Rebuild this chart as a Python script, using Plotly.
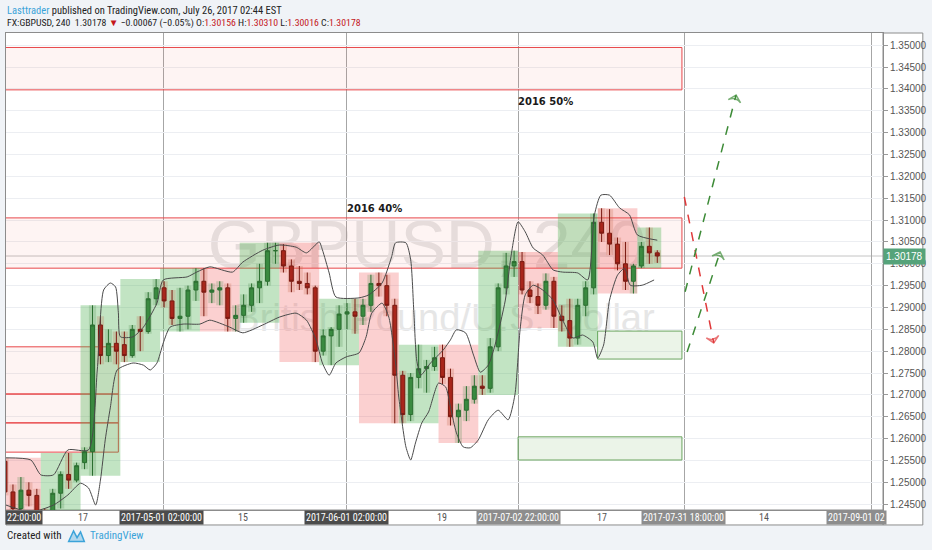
import numpy as np
import pandas as pd
import plotly.graph_objects as go

# GBPUSD daily bars, 2017-04-03 .. 2017-07-26
dates = pd.bdate_range("2017-04-03", "2017-07-26")
opens = [1.2548, 1.2478, 1.2440, 1.2482, 1.2470,
         1.2410, 1.2405, 1.2475, 1.2518, 1.2505,
         1.2545, 1.2570, 1.2860, 1.2790, 1.2818,
         1.2815, 1.2790, 1.2850, 1.2845, 1.2920,
         1.2945, 1.2915, 1.2875, 1.2880, 1.2940,
         1.2960, 1.2935, 1.2940, 1.2945, 1.2875,
         1.2882, 1.2905, 1.2945, 1.2960, 1.3030,
         1.3030, 1.2995, 1.2960, 1.2955, 1.2945,
         1.2800, 1.2835, 1.2850, 1.2885, 1.2890,
         1.2880, 1.2905, 1.2955, 1.2950, 1.2905,
         1.2745, 1.2655, 1.2740, 1.2760, 1.2765,
         1.2785, 1.2740, 1.2650, 1.2665, 1.2690,
         1.2720, 1.2715, 1.2810, 1.2945, 1.2995,
         1.3005, 1.2940, 1.2925, 1.2905, 1.2960,
         1.2880, 1.2870, 1.2830, 1.2905, 1.2945,
         1.3095, 1.3070, 1.3045, 1.3000, 1.2960,
         1.2995, 1.3040, 1.3025]
highs = [1.2556, 1.2495, 1.2512, 1.2500, 1.2485,
         1.2440, 1.2485, 1.2525, 1.2567, 1.2545,
         1.2580, 1.2905, 1.2880, 1.2850, 1.2845,
         1.2845, 1.2860, 1.2880, 1.2935, 1.2965,
         1.2960, 1.2940, 1.2945, 1.2950, 1.2990,
         1.2990, 1.2955, 1.2960, 1.2955, 1.2905,
         1.2930, 1.2955, 1.3000, 1.3048, 1.3048,
         1.3045, 1.3010, 1.2995, 1.2980, 1.2950,
         1.2850, 1.2855, 1.2905, 1.2910, 1.2920,
         1.2920, 1.2975, 1.2980, 1.2975, 1.2920,
         1.2755, 1.2750, 1.2815, 1.2780, 1.2810,
         1.2815, 1.2760, 1.2680, 1.2720, 1.2745,
         1.2745, 1.2830, 1.2955, 1.3025, 1.3030,
         1.3027, 1.2960, 1.2955, 1.2978, 1.2970,
         1.2905, 1.2920, 1.2920, 1.2960, 1.3115,
         1.3127, 1.3125, 1.3060, 1.3050, 1.3000,
         1.3050, 1.3083, 1.3031]
lows = [1.2470, 1.2430, 1.2432, 1.2445, 1.2365,
        1.2380, 1.2375, 1.2440, 1.2485, 1.2500,
        1.2530, 1.2515, 1.2770, 1.2775, 1.2770,
        1.2775, 1.2785, 1.2800, 1.2840, 1.2905,
        1.2900, 1.2860, 1.2845, 1.2850, 1.2915,
        1.2880, 1.2910, 1.2905, 1.2845, 1.2845,
        1.2865, 1.2890, 1.2910, 1.2950, 1.3000,
        1.2980, 1.2935, 1.2940, 1.2930, 1.2775,
        1.2790, 1.2768, 1.2810, 1.2850, 1.2840,
        1.2860, 1.2890, 1.2925, 1.2880, 1.2635,
        1.2635, 1.2640, 1.2715, 1.2705, 1.2755,
        1.2725, 1.2630, 1.2590, 1.2640, 1.2680,
        1.2700, 1.2705, 1.2800, 1.2930, 1.2970,
        1.2930, 1.2910, 1.2885, 1.2895, 1.2853,
        1.2845, 1.2810, 1.2815, 1.2880, 1.2930,
        1.3050, 1.3020, 1.2985, 1.2940, 1.2932,
        1.2990, 1.3000, 1.3002]
closes = [1.2478, 1.2440, 1.2482, 1.2470, 1.2410,
          1.2405, 1.2475, 1.2518, 1.2505, 1.2538,
          1.2570, 1.2860, 1.2790, 1.2818, 1.2800,
          1.2790, 1.2850, 1.2845, 1.2920, 1.2945,
          1.2915, 1.2875, 1.2880, 1.2940, 1.2960,
          1.2935, 1.2940, 1.2945, 1.2875, 1.2882,
          1.2905, 1.2945, 1.2960, 1.3030, 1.3030,
          1.2995, 1.2960, 1.2955, 1.2945, 1.2800,
          1.2835, 1.2850, 1.2885, 1.2890, 1.2880,
          1.2905, 1.2955, 1.2950, 1.2905, 1.2745,
          1.2655, 1.2740, 1.2760, 1.2765, 1.2785,
          1.2740, 1.2650, 1.2665, 1.2690, 1.2720,
          1.2715, 1.2810, 1.2945, 1.2995, 1.3005,
          1.2940, 1.2925, 1.2905, 1.2960, 1.2880,
          1.2870, 1.2830, 1.2905, 1.2945, 1.3095,
          1.3070, 1.3045, 1.3000, 1.2960, 1.2995,
          1.3040, 1.3025, 1.30178]

# weekly range boxes
week_starts = ["2017-04-03", "2017-04-10", "2017-04-17", "2017-04-24", "2017-05-01",
               "2017-05-08", "2017-05-15", "2017-05-22", "2017-05-29", "2017-06-05",
               "2017-06-12", "2017-06-19", "2017-06-26", "2017-07-03", "2017-07-10",
               "2017-07-17", "2017-07-24"]
week_len = [5, 5, 5, 5, 5, 5, 5, 5, 5, 5, 5, 5, 5, 5, 5, 5, 3]
week_open = [1.2548, 1.2410, 1.2545, 1.2815, 1.2945, 1.2960, 1.2882, 1.3030, 1.2800,
             1.2880, 1.2745, 1.2785, 1.2720, 1.3005, 1.2880, 1.3095, 1.2995]
week_high = [1.2556, 1.2567, 1.2905, 1.2965, 1.2990, 1.2990, 1.3048, 1.3048, 1.2920,
             1.2980, 1.2815, 1.2815, 1.3030, 1.3027, 1.3115, 1.3127, 1.3083]
week_low = [1.2365, 1.2365, 1.2515, 1.2775, 1.2845, 1.2845, 1.2865, 1.2775, 1.2768,
            1.2635, 1.2635, 1.2590, 1.2700, 1.2853, 1.2810, 1.2932, 1.2990]
week_close = [1.2410, 1.2538, 1.2800, 1.2945, 1.2960, 1.2882, 1.3030, 1.2800, 1.2880,
              1.2745, 1.2785, 1.2720, 1.3005, 1.2880, 1.3095, 1.2995, 1.30178]

# bollinger envelope, x in bars (trading days from 2017-05-01)
band_up_x = [-19.9, -16.75, -15.5, -13.9, -12.1, -9.5, -8.4, -7.6, -6.75, -6.1, -5.75, -5.5,
             -3.9, -2.6, -0.9, -0.1, 2.9, 4.1, 5.75, 8.6, 9.9, 12.4, 14.5, 16.6, 17.9, 19.5,
             19.9, 20.75, 21.6, 24.5, 25.75, 27.4, 28.6, 29.1, 30.4, 31.0, 31.4, 31.75, 32.25,
             33.5, 35.1, 36.0, 36.75, 37.9, 38.9, 39.75, 40.75, 41.6, 42.9, 43.6, 44.5, 45.4,
             46.4, 47.6, 48.9, 50.1, 52.0, 53.25, 54.1, 54.9, 56.0, 57.25, 58.5, 59.5, 62.0]
band_up = [1.2556, 1.2551, 1.2517, 1.2517, 1.2574, 1.2574, 1.2757, 1.2940, 1.2956, 1.2947,
           1.2888, 1.2833, 1.2833, 1.2855, 1.2910, 1.2963, 1.2970, 1.2981, 1.2993, 1.2981,
           1.3004, 1.3031, 1.3043, 1.3038, 1.3025, 1.3050, 1.3032, 1.2979, 1.2924, 1.2922,
           1.2929, 1.2956, 1.3016, 1.3048, 1.3048, 1.3009, 1.2888, 1.2780, 1.2745, 1.2773,
           1.2803, 1.2826, 1.2849, 1.2842, 1.2791, 1.2752, 1.2768, 1.2814, 1.2917, 1.3016,
           1.3096, 1.3073, 1.3036, 1.3020, 1.2986, 1.2981, 1.2979, 1.2963, 1.3112, 1.3157,
           1.3157, 1.3128, 1.3112, 1.3066, 1.3054]
band_lo_x = [-19.9, -16.75, -13.9, -12.1, -10.5, -9.5, -8.6, -8.0, -7.4, -6.75, -5.9, -3.9,
             -2.6, -1.75, -0.9, -0.1, 0.75, 2.4, 4.5, 5.75, 8.25, 9.9, 12.4, 14.5, 16.6, 17.9,
             19.1, 19.9, 20.75, 21.6, 22.9, 24.5, 25.4, 26.1, 27.4, 28.25, 29.1, 29.5, 30.4,
             31.0, 31.6, 32.4, 33.25, 34.5, 35.4, 36.0, 36.75, 37.6, 38.5, 39.5, 40.75, 42.0,
             43.25, 44.1, 44.75, 45.4, 46.4, 47.6, 48.9, 50.1, 51.4, 52.6, 53.9, 54.5, 55.25,
             56.0, 57.0, 57.9, 58.6, 60.1, 61.6]
band_lo = [1.2448, 1.2432, 1.2448, 1.2471, 1.2498, 1.2487, 1.2448, 1.2505, 1.2597, 1.2672,
           1.2757, 1.2773, 1.2768, 1.2757, 1.2773, 1.2819, 1.2855, 1.2862, 1.2862, 1.2871,
           1.2855, 1.2842, 1.2860, 1.2878, 1.2887, 1.2871, 1.2826, 1.2773, 1.2745, 1.2773,
           1.2787, 1.2796, 1.2833, 1.2887, 1.2910, 1.2878, 1.2773, 1.2695, 1.2581, 1.2551,
           1.2590, 1.2636, 1.2661, 1.2727, 1.2718, 1.2672, 1.2613, 1.2581, 1.2579, 1.2597,
           1.2643, 1.2665, 1.2643, 1.2700, 1.2849, 1.2929, 1.2951, 1.2940, 1.2917, 1.2871,
           1.2830, 1.2837, 1.2821, 1.2784, 1.2814, 1.2917, 1.2974, 1.2990, 1.2951, 1.2951,
           1.2963]

# drawn zones: (bar from, bar to, price low, price high)
red_zones = [(-21, 65.1, 1.3398, 1.3495),
             (-21, 65.1, 1.2990, 1.3105),
             (-21, -5.75, 1.2702, 1.2810),
             (-21, -5.75, 1.2636, 1.2702),
             (-21, -5.75, 1.2569, 1.2636)]
green_zones = [(54.5, 65.1, 1.2782, 1.2846),
               (44.5, 65.1, 1.2551, 1.2604)]
zone_labels = [("2016 50%", 48.0, 1.3372), ("2016 40%", 26.5, 1.3127)]

# projected paths: (bar from, price from, bar to, price to)
paths_red = [(65.4, 1.3153, 69.1, 1.2819)]
paths_green = [(65.5, 1.2936, 71.9, 1.3386), (65.75, 1.2798, 69.9, 1.3027)]

# time axis
month_lines = [-0.125, 22.875, 44.5, 65.375, 88.875]
time_labels = [("22:00:00", -17.6, "dark"), ("17", -10.25, ""), ("2017-05-01 02:00:00", -0.375, "dark"),
               ("15", 9.875, ""), ("2017-06-01 02:00:00", 22.875, "dark"), ("19", 34.875, ""),
               ("2017-07-02 22:00:00", 44.5, "grey"), ("17", 55.1, ""),
               ("2017-07-31 18:00:00", 65.25, "grey"), ("14", 75.4, ""), ("2017-09-01 02", 87.0, "grey")]
last_bar = [1.30156, 1.30310, 1.30016, 1.30178]

ref = np.datetime64("2017-05-01")
x_bar = np.busday_count(ref, dates.values.astype("datetime64[D]"))
ws = np.busday_count(ref, np.array(week_starts, dtype="datetime64[D]"))
wx = ws + (np.array(week_len) - 1) / 2

narrow = "Roboto Condensed, Liberation Sans Narrow, Arial Narrow, sans-serif"
fig = go.Figure()

wcol = ["rgba(76,175,80,0.34)" if c >= o else "rgba(239,83,80,0.27)"
        for o, c in zip(week_open, week_close)]
fig.add_trace(go.Bar(x=wx, y=np.array(week_high) - np.array(week_low), base=week_low,
                     width=week_len, marker=dict(color=wcol, line=dict(width=0)),
                     hoverinfo="skip"))

dcol = ["rgba(60,130,60,0.20)" if c >= o else "rgba(190,90,60,0.22)"
        for o, c in zip(opens, closes)]
fig.add_trace(go.Bar(x=x_bar, y=np.array(highs) - np.array(lows), base=lows, width=0.9,
                     marker=dict(color=dcol, line=dict(width=0)), hoverinfo="skip"))

fig.add_trace(go.Candlestick(
    x=x_bar, open=opens, high=highs, low=lows, close=closes,
    increasing=dict(line=dict(color="#2b6e30", width=1), fillcolor="#3a8a40"),
    decreasing=dict(line=dict(color="#7a1a12", width=1), fillcolor="#a8261b"),
    whiskerwidth=0, hoverinfo="skip"))

for bx, by in [(band_up_x, band_up), (band_lo_x, band_lo)]:
    fig.add_trace(go.Scatter(x=bx, y=by, mode="lines", hoverinfo="skip",
                             line=dict(color="#4a4a4a", width=1, shape="spline", smoothing=0.6)))

for paths, col in [(paths_red, "#e0393a"), (paths_green, "#3d8b37")]:
    for x0, y0, x1, y1 in paths:
        fig.add_trace(go.Scatter(x=[x0, x1], y=[y0, y1], mode="lines+markers", hoverinfo="skip",
                                 line=dict(color=col, width=1.5, dash="dash"),
                                 marker=dict(symbol="arrow-wide-open", size=[0, 9], angleref="previous",
                                             color=col, line=dict(color=col, width=1.5))))

for x0, x1, y0, y1 in red_zones:
    fig.add_shape(type="rect", x0=x0, x1=x1, y0=y0, y1=y1, layer="between",
                  line=dict(color="#e8474a", width=1), fillcolor="rgba(244,67,54,0.06)")
for x0, x1, y0, y1 in green_zones:
    fig.add_shape(type="rect", x0=x0, x1=x1, y0=y0, y1=y1, layer="between",
                  line=dict(color="#6aa55f", width=1), fillcolor="rgba(110,180,90,0.14)")

fig.add_hline(y=closes[-1], line=dict(color="#c4c4c4", width=1), layer="below")

# watermark behind the bars
fig.add_shape(type="rect", xref="paper", yref="paper", x0=0.24, x1=0.72, y0=0.50, y1=0.64,
              line=dict(width=0), fillcolor="rgba(0,0,0,0)", layer="below",
              label=dict(text="GBPUSD, 240", font=dict(family="Liberation Sans", size=68, color="#e6e6e6")))
fig.add_shape(type="rect", xref="paper", yref="paper", x0=0.25, x1=0.75, y0=0.36, y1=0.46,
              line=dict(width=0), fillcolor="rgba(0,0,0,0)", layer="below",
              label=dict(text="British Pound/U.S. Dollar", font=dict(family="Liberation Sans", size=38, color="#e6e6e6")))

for txt, lx, ly in zone_labels:
    fig.add_annotation(x=lx, y=ly, text=txt, showarrow=False,
                       font=dict(family="DejaVu Sans", size=10, color="#1a1a1a", weight="bold"))

# axis bands: price scale on the right, time scale below
fig.add_shape(type="rect", xref="paper", yref="paper", x0=1, x1=1.0454, y0=-0.0314, y1=1,
              line=dict(color="#8c8c8c", width=1), fillcolor="white", layer="below")
fig.add_shape(type="rect", xref="paper", yref="paper", x0=0, x1=1, y0=-0.0314, y1=0,
              line=dict(color="#8c8c8c", width=1), fillcolor="white", layer="below")

box_col = {"dark": "#4b4b4b", "grey": "#8d8d8d"}
for txt, lx, kind in time_labels:
    if kind:
        fig.add_annotation(x=lx, y=-0.0157, yref="paper", text=txt, showarrow=False,
                           bgcolor=box_col[kind], borderpad=1, yanchor="middle",
                           font=dict(family=narrow, size=10, color="white"))
    else:
        fig.add_annotation(x=lx, y=-0.0157, yref="paper", text=txt, showarrow=False, yanchor="middle",
                           font=dict(family=narrow, size=10, color="#555"))

fig.add_annotation(x=1, xref="paper", y=last_bar[3], xanchor="left", text=f"{last_bar[3]:.5f}",
                   showarrow=False, bgcolor="#55a37a", borderpad=2,
                   font=dict(family="Liberation Sans", size=10, color="white"))

red = "#c4161c"
hdr1 = "<span style='color:#3ba3d9'>Lasttrader</span> published on TradingView.com, July 26, 2017 02:44 EST"
hdr2 = (f"FX:GBPUSD, 240  {last_bar[3]:.5f} <span style='color:{red}'>▼</span> −0.00067 (−0.05%) "
        f"O:<span style='color:{red}'>{last_bar[0]:.5f}</span> H:<span style='color:{red}'>{last_bar[1]:.5f}</span> "
        f"L:<span style='color:{red}'>{last_bar[2]:.5f}</span> C:<span style='color:{red}'>{last_bar[3]:.5f}</span>")
fig.add_annotation(x=-0.001, y=1.048, xref="paper", yref="paper", xanchor="left", yanchor="middle",
                   text=hdr1, showarrow=False, font=dict(family=narrow, size=10.5, color="#222"))
fig.add_annotation(x=-0.001, y=1.021, xref="paper", yref="paper", xanchor="left", yanchor="middle",
                   text=hdr2, showarrow=False, font=dict(family=narrow, size=9.8, color="#222"))
fig.add_annotation(x=-0.001, y=-0.0545, xref="paper", yref="paper", xanchor="left", yanchor="middle",
                   text="Created with", showarrow=False,
                   font=dict(family=narrow, size=11, color="#222"))
fig.add_annotation(x=0.094, y=-0.0545, xref="paper", yref="paper", xanchor="left", yanchor="middle",
                   text="TradingView", showarrow=False,
                   font=dict(family=narrow, size=11, color="#3ba3d9"))
# small logo
fig.add_shape(type="path", xref="paper", yref="paper",
              path="M 0.0714 -0.066 L 0.0770 -0.044 L 0.0810 -0.058 L 0.0850 -0.046 L 0.0893 -0.066 Z",
              line=dict(color="#3ba3d9", width=1.5), fillcolor="rgba(59,163,217,0.35)")

fig.update_layout(
    width=932, height=550, margin=dict(l=5, r=45, t=33, b=40),
    paper_bgcolor="#f0f3f7", plot_bgcolor="white", showlegend=False, barmode="overlay",
    xaxis=dict(range=[-19.875, 90.375], tickvals=month_lines, showticklabels=False, ticks="",
               showgrid=True, gridcolor="#a6a6a6", gridwidth=1, zeroline=False,
               showline=True, linecolor="#8c8c8c", mirror=True, rangeslider=dict(visible=False)),
    yaxis=dict(range=[1.24366, 1.35281], side="right", dtick=0.005, tick0=1.25, tickformat=".5f",
               gridcolor="#eceef2", zeroline=False, showline=True, linecolor="#8c8c8c", mirror=True,
               ticks="outside", ticklen=4, tickcolor="#9a9a9a",
               tickfont=dict(family="Liberation Sans", size=10, color="#555")),
)

fig.write_html("out.html", config={"displayModeBar": False},
               post_script="document.body.style.margin='0';")
